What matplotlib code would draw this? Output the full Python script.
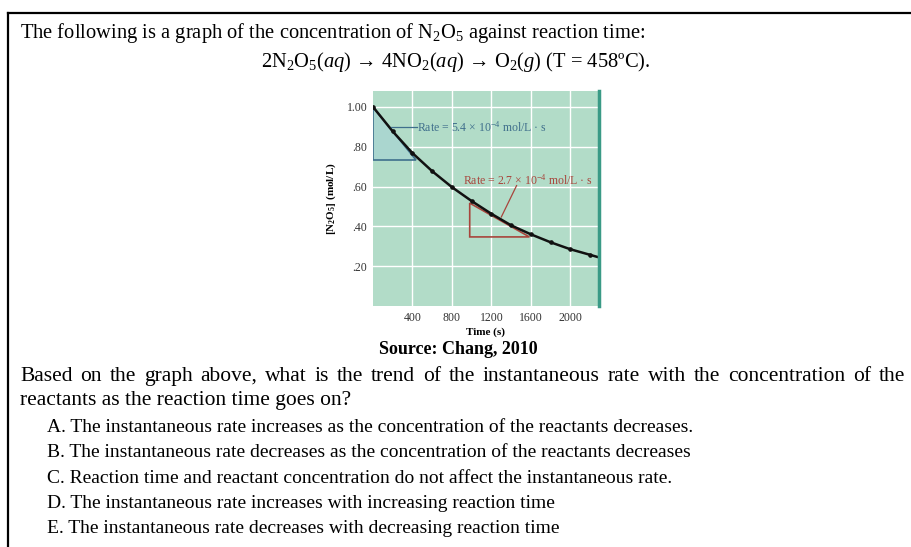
import matplotlib.pyplot as plt
import matplotlib.patches as mpatches

plt.rcParams['font.family'] = ['Liberation Serif', 'DejaVu Serif']
plt.rcParams['mathtext.fontset'] = 'custom'
plt.rcParams['mathtext.rm'] = 'Liberation Serif'
plt.rcParams['mathtext.it'] = 'Liberation Serif:italic'
plt.rcParams['mathtext.bf'] = 'Liberation Serif:bold'

# data
time_s = [0, 200, 400, 600, 800, 1000, 1200, 1400, 1600, 1800, 2000, 2200]
conc = [1.00, 0.877, 0.768, 0.677, 0.597, 0.527, 0.463, 0.405, 0.360, 0.320, 0.285, 0.257]
curve_end = (2270, 0.247)
x_ticks = [400, 800, 1200, 1600, 2000]
y_ticks = [0.20, 0.40, 0.60, 0.80, 1.00]
y_ticklabels = ['.20', '.40', '.60', '.80', '1.00']

# tangent triangles (corner points)
blue_tri = [(0, 1.00), (0, 0.733), (440, 0.733)]
red_tri = [(980, 0.517), (980, 0.347), (1585, 0.347)]
rate_labels = ['Rate = 5.4 × 10$^{-4}$ mol/L · s', 'Rate = 2.7 × 10$^{-4}$ mol/L · s']

intro = 'The following is a graph of the concentration of N$_2$O$_5$ against reaction time:'
equation = ('2N$_2$O$_5$$\\it{(aq)}$ → 4NO$_2$$\\it{(aq)}$ → O$_2$$\\it{(g)}$ (T = 458ºC).')
source = 'Source: Chang, 2010'
question = ['Based on the graph above, what is the trend of the instantaneous rate with the concentration of the',
            'reactants as the reaction time goes on?']
options = ['A. The instantaneous rate increases as the concentration of the reactants decreases.',
           'B. The instantaneous rate decreases as the concentration of the reactants decreases',
           'C. Reaction time and reactant concentration do not affect the instantaneous rate.',
           'D. The instantaneous rate increases with increasing reaction time',
           'E. The instantaneous rate decreases with decreasing reaction time']

W, H = 911, 547
fig = plt.figure(figsize=(W / 100, H / 100), dpi=100)
page = fig.add_axes([0, 0, 1, 1])
page.set_xlim(0, W)
page.set_ylim(H, 0)
page.axis('off')

# border (top and left only)
page.plot([8, W], [12.5, 12.5], color='black', lw=1.6)
page.plot([8, 8], [12.5, H], color='black', lw=1.6)

page.text(20, 33, intro, fontsize=14.8, va='center')
page.text(456, 62, equation, fontsize=14.8, va='center', ha='center')
page.text(458, 349, source, fontsize=13, va='center', ha='center', fontweight='bold')

# first question line is justified between the margins
qfs = 15.5
fig.canvas.draw()
renderer = fig.canvas.get_renderer()
words = question[0].split(' ')
widths = []
for w in words:
    t = page.text(0, 0, w, fontsize=qfs)
    widths.append(t.get_window_extent(renderer).width)
    t.remove()
left, right = 20, 905
gap = (right - left - sum(widths)) / (len(words) - 1)
x = left
for w, wd in zip(words, widths):
    page.text(x, 381, w, fontsize=qfs, va='baseline')
    x += wd + gap
page.text(20, 405, question[1], fontsize=qfs, va='baseline')

for i, opt in enumerate(options):
    page.text(47, 432 + i * 25.3, opt, fontsize=14, va='baseline')

# the chart
ax = fig.add_axes([373 / W, (H - 306) / H, 226 / W, 215 / H])
ax.set_facecolor('#b2dcc8')
ax.set_xlim(0, 2290)
ax.set_ylim(0, 1.08)
ax.set_xticks(x_ticks)
ax.set_yticks(y_ticks)
ax.set_yticklabels(y_ticklabels)
ax.tick_params(length=0, labelsize=8.5, pad=4, colors='#333333')
ax.grid(color='white', lw=1)
ax.set_axisbelow(True)
for s in ['top', 'left', 'bottom']:
    ax.spines[s].set_visible(False)
ax.spines['right'].set_color('#3a9a86')
ax.spines['right'].set_linewidth(2.5)

ax.add_patch(mpatches.Polygon(blue_tri, closed=True, facecolor='#aad6cf', edgecolor='#3f6f8c', lw=1.2))
ax.add_patch(mpatches.Polygon(red_tri, closed=True, facecolor='none', edgecolor='#a8453c', lw=1.2))

ax.plot(time_s + [curve_end[0]], conc + [curve_end[1]], color='#111111', lw=1.8)
ax.plot(time_s, conc, 'o', color='#111111', ms=2.3)

ax.plot([445, 185], [0.90, 0.90], color='#3f6f8c', lw=0.9)
ax.text(450, 0.90, rate_labels[0], color='#3f6f8c', fontsize=8.5, va='center')
ax.plot([1455, 1300], [0.605, 0.447], color='#a8453c', lw=0.9)
ax.text(1570, 0.633, rate_labels[1], color='#a8453c', fontsize=8.5, va='center', ha='center')

ax.set_xlabel('Time (s)', fontsize=8, fontweight='bold', labelpad=3)
ax.set_ylabel('$\\mathbf{[N_2O_5]}$ (mol/L)', fontsize=8, fontweight='bold', labelpad=6)

fig.savefig('out.png', dpi=100)
